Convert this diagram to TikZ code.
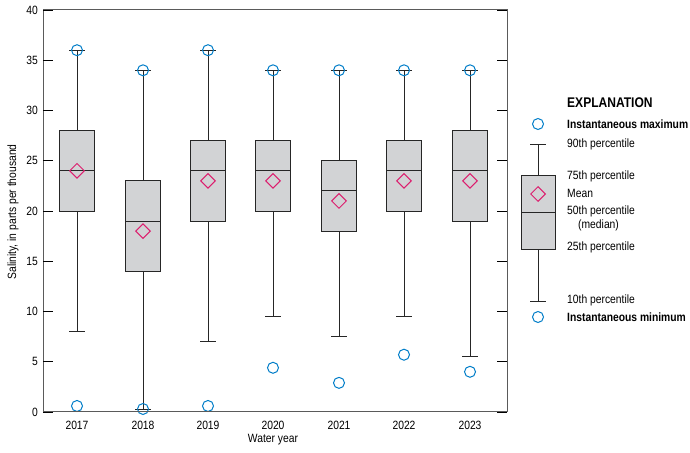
\documentclass[tikz,border=0pt]{standalone}
\usepackage{fontspec}
\setmainfont[FakeStretch=0.86]{Liberation Sans}
\usetikzlibrary{shapes.geometric}
\definecolor{boxg}{RGB}{210,211,213}
\definecolor{cblue}{RGB}{0,125,200}
\definecolor{dpink}{RGB}{220,30,110}
\definecolor{axg}{RGB}{90,90,90}
\tikzset{
 bx/.style={draw=black!85,fill=boxg,line width=0.8pt},
 wh/.style={draw=black!85,line width=0.8pt},
 ext/.style={circle,draw=cblue,line width=1pt,minimum size=11pt,inner sep=0pt},
 mn/.style={diamond,draw=dpink,line width=1pt,minimum size=15pt,inner sep=0pt},
 lab/.style={font=\fontsize{12}{13}\selectfont,anchor=west,inner sep=0pt},
 tl/.style={font=\fontsize{12}{13}\selectfont,inner sep=0pt}
}
\newcommand\bplot[9]{% x, p10, p25, med, p75, p90, mean, min, max
 \draw[wh] (#1,#2) coordinate (lo#1) -- (#1,#6) coordinate (hi#1);
 \draw[wh] (#1-8,#2) -- (#1+8,#2);
 \draw[wh] (#1-8,#6) -- (#1+8,#6);
 \draw[bx] (#1-17.5,#3) rectangle (#1+17.5,#5);
 \draw[wh] (#1-17.5,#4) -- (#1+17.5,#4);
 \node[mn] (mean#1) at (#1,#7) {};
 \node[ext] (min#1) at (#1,#8) {};
 \node[ext] (max#1) at (#1,#9) {};
}
\begin{document}
\begin{tikzpicture}[x=1pt,y=1pt]
\useasboundingbox (0,0) rectangle (690,452);
\begin{scope}[shift={(0,40)},y=10.05pt]
 \bplot{77}{8}{20}{24}{28}{36}{24}{0.6}{36}
 \bplot{143}{0.3}{14}{19}{23}{34}{18}{0.3}{34}
 \bplot{208}{7}{19}{24}{27}{36}{23}{0.6}{36}
 \bplot{273}{9.5}{20}{24}{27}{34}{23}{4.4}{34}
 \bplot{339}{7.5}{18}{22}{25}{34}{21}{2.9}{34}
 \bplot{404}{9.5}{20}{24}{27}{34}{23}{5.7}{34}
 \bplot{470}{5.5}{19}{24}{28}{34}{23}{4.0}{34}
 \draw[axg,line width=1pt] (43,0) rectangle (507,40);
 \foreach \v in {0,5,...,40}{
  \draw[black,line width=0.8pt] (43,\v) -- (53,\v);
  \draw[black,line width=0.8pt] (507,\v) -- (497,\v);
  \node[tl,anchor=east] (yt\v) at (38,\v) {\v};}
 \foreach \yr/\xx in {2017/77,2018/143,2019/208,2020/273,2021/339,2022/404,2023/470}
  \node[tl] (xt\yr) at (\xx,-1.3) {\yr};
\end{scope}
\node[tl,rotate=90] (ylab) at (13,240) {Salinity, in parts per thousand};
\node[tl] (xlab) at (273,12) {Water year};
% legend
\draw[wh] (538,151) -- (538,308);
\draw[wh] (530,151) -- (546,151);
\draw[wh] (530,308) -- (546,308);
\draw[bx] (521,203) rectangle (555,277);
\draw[wh] (521,240) -- (555,240);
\node[mn] (lmean) at (538,258) {};
\node[ext] (lmax) at (538,328) {};
\node[ext] (lmin) at (538,135) {};
\node[lab,font=\fontsize{14}{15}\selectfont\bfseries] (lt) at (567,349) {EXPLANATION};
\node[lab,font=\fontsize{12}{13}\selectfont\bfseries] (l1) at (567,328) {Instantaneous maximum};
\node[lab] (l2) at (567,308) {90th percentile};
\node[lab] (l3) at (567,276) {75th percentile};
\node[lab] (l4) at (567,259) {Mean};
\node[lab] (l5) at (567,241) {50th percentile};
\node[lab] (l6) at (578,227) {(median)};
\node[lab] (l7) at (567,205) {25th percentile};
\node[lab] (l8) at (567,152) {10th percentile};
\node[lab,font=\fontsize{12}{13}\selectfont\bfseries] (l9) at (567,135) {Instantaneous minimum};
\end{tikzpicture}
\end{document}
